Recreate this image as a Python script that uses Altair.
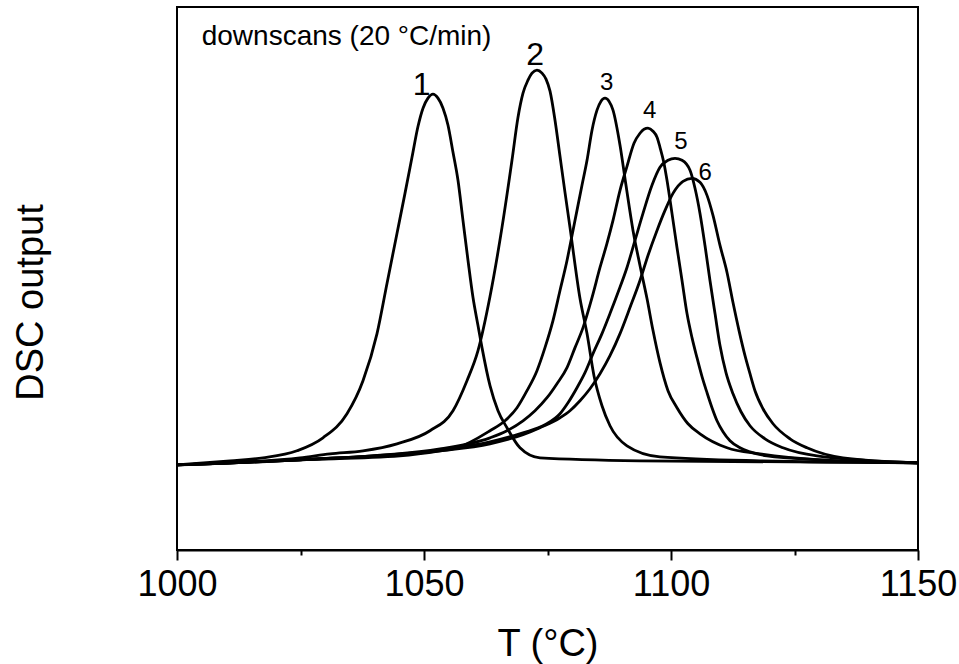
import altair as alt
import pandas as pd

# ---- data (T in °C, DSC output in arbitrary units) ----
T1 = [1000, 1010.73, 1017.41, 1024.29, 1029.55, 1034.41, 1037.65, 1040.49, 1042.51, 1044.53,
      1046.15, 1047.57, 1048.79, 1049.80, 1050.81, 1051.82, 1052.83, 1053.85, 1054.86, 1055.87,
      1056.88, 1057.89, 1058.91, 1059.92, 1060.93, 1061.74, 1063.36, 1064.98, 1066.80, 1069.43,
      1073.48, 1093.7, 1150]
V1 = [15.68, 16.42, 16.97, 18.27, 20.66, 25.09, 31.18, 39.85, 49.08, 58.30,
      65.68, 72.32, 78.04, 81.37, 83.21, 83.95, 83.21, 81.37, 78.23, 73.25,
      68.08, 60.70, 53.32, 46.49, 41.33, 37.27, 30.26, 25.65, 22.51, 18.82,
      16.97, 16.42, 16.05]

T2 = [1000, 1014.78, 1024.90, 1030.97, 1037.65, 1044.53, 1051.21, 1055.87, 1058.70, 1060.93,
      1063.36, 1065.79, 1067.81, 1069.03, 1070.04, 1071.05, 1071.86, 1072.87, 1073.89, 1074.70,
      1075.51, 1076.52, 1077.53, 1078.54, 1079.55, 1081.58, 1083.00, 1084.41, 1086.03, 1087.65,
      1091.09, 1097.77, 1118.02, 1150]
V2 = [15.68, 16.24, 16.97, 17.71, 18.27, 19.56, 21.96, 25.65, 31.18, 36.72,
      46.68, 59.41, 71.77, 79.70, 84.13, 86.53, 87.82, 88.38, 87.82, 86.72,
      84.50, 79.15, 72.51, 65.87, 59.41, 46.31, 39.85, 32.10, 26.57, 22.88,
      19.19, 17.16, 16.42, 16.05]

T3 = [1000, 1024.90, 1045.14, 1053.24, 1056.68, 1063.36, 1066.40, 1068.83, 1070.85, 1072.87,
      1074.49, 1076.11, 1077.53, 1078.95, 1079.96, 1080.97, 1081.98, 1083.00, 1084.01, 1085.02,
      1085.83, 1086.64, 1087.45, 1088.26, 1089.68, 1090.89, 1092.31, 1093.72, 1095.14, 1096.36,
      1097.77, 1099.39, 1101.21, 1103.44, 1105.87, 1111.34, 1118.02, 1130.16, 1150]
V3 = [15.68, 16.61, 17.34, 18.27, 18.82, 21.96, 23.80, 26.20, 29.34, 33.03,
      37.27, 42.25, 47.79, 53.32, 57.93, 62.55, 67.16, 71.77, 77.31, 81.00,
      82.66, 83.21, 82.66, 81.00, 74.54, 67.16, 58.86, 52.40, 46.31, 40.41,
      34.50, 29.34, 26.20, 23.25, 21.40, 18.82, 17.71, 16.61, 16.05]

T4 = [1000, 1024.90, 1053.24, 1063.36, 1066.80, 1070.04, 1072.47, 1074.90, 1076.92, 1078.95,
      1080.57, 1082.19, 1084.01, 1085.63, 1087.04, 1088.26, 1089.68, 1091.09, 1092.51, 1093.72,
      1094.53, 1095.34, 1096.36, 1097.17, 1097.77, 1098.58, 1099.19, 1100.20, 1101.21, 1102.23,
      1103.24, 1104.25, 1105.26, 1106.28, 1107.29, 1108.30, 1109.31, 1110.53, 1111.94, 1113.97,
      1115.99, 1119.43, 1130.16, 1150]
V4 = [15.68, 16.61, 18.63, 20.66, 21.96, 23.80, 25.65, 28.04, 30.63, 33.58,
      37.27, 40.96, 46.49, 52.03, 56.46, 60.70, 66.24, 70.66, 74.91, 76.75,
      77.49, 77.68, 77.12, 76.01, 74.17, 71.22, 68.08, 61.99, 55.72, 49.63,
      43.54, 39.11, 35.42, 31.92, 28.97, 26.20, 23.80, 21.77, 20.11, 18.82,
      18.08, 17.34, 16.61, 16.05]

T5 = [1000, 1024.90, 1053.24, 1063.36, 1070.04, 1074.49, 1077.53, 1079.15, 1080.97, 1082.59,
      1084.21, 1086.03, 1087.65, 1089.27, 1091.09, 1092.71, 1094.33, 1096.15, 1097.77, 1099.39,
      1100.81, 1102.23, 1103.85, 1104.86, 1105.87, 1106.88, 1107.89, 1108.91, 1109.92, 1111.13,
      1112.55, 1114.17, 1115.99, 1119.03, 1122.67, 1129.55, 1150]
V5 = [15.68, 16.61, 18.45, 19.93, 21.59, 23.06, 25.09, 27.12, 29.89, 32.66,
      36.16, 39.85, 43.54, 47.42, 52.03, 57.01, 61.99, 67.16, 70.48, 71.77,
      72.14, 71.77, 69.93, 66.61, 61.99, 56.09, 49.63, 43.54, 37.64, 32.66,
      28.78, 25.46, 22.88, 20.48, 18.82, 17.34, 16.05]

T6 = [1000, 1024.90, 1053.24, 1063.36, 1070.04, 1073.48, 1077.53, 1079.55, 1081.58, 1083.60,
      1085.63, 1087.65, 1089.68, 1091.70, 1093.72, 1095.34, 1097.17, 1098.79, 1100.40, 1102.43,
      1104.25, 1105.87, 1107.29, 1108.50, 1109.92, 1111.34, 1112.55, 1113.77, 1114.98, 1115.99,
      1117.00, 1118.62, 1120.65, 1124.09, 1127.53, 1134.82, 1150]
V6 = [15.68, 16.61, 18.27, 19.56, 21.22, 22.51, 24.35, 25.65, 27.49, 29.70,
      32.47, 35.79, 39.85, 44.65, 49.63, 54.24, 58.86, 62.55, 65.68, 67.90,
      68.45, 67.71, 65.31, 61.62, 56.09, 51.11, 45.57, 40.41, 35.79, 32.47,
      29.34, 26.01, 23.25, 20.48, 18.82, 16.97, 16.05]

curve_names = ["1", "2", "3", "4", "5", "6"]
curve_T = [T1, T2, T3, T4, T5, T6]
curve_V = [V1, V2, V3, V4, V5, V6]

# peak labels
label_names = ["1", "2", "3", "4", "5", "6"]
label_T = [1049.5, 1072.5, 1087.0, 1095.7, 1102.0, 1106.9]
label_V = [83.8, 89.3, 84.7, 79.5, 73.8, 68.1]

note_text = ["downscans (20 °C/min)"]
note_T = [1005.0]
note_V = [93.0]

x_ticks = [1000, 1025, 1050, 1075, 1100, 1125, 1150]

# ---- tables ----
rows = []
for name, ts, vs in zip(curve_names, curve_T, curve_V):
    for t, v in zip(ts, vs):
        rows.append({"curve": name, "T": t, "v": v})
df = pd.DataFrame(rows)
labels = pd.DataFrame({"name": label_names, "T": label_T, "v": label_V})
note = pd.DataFrame({"text": note_text, "T": note_T, "v": note_V})

FONT = "Liberation Sans"

xscale = alt.Scale(domain=[1000, 1150], nice=False, zero=False)
yscale = alt.Scale(domain=[0, 100], nice=False, zero=False)

xaxis = alt.Axis(
    title="T (°C)", values=x_ticks, grid=False, format="d",
    labelExpr="datum.value % 50 == 0 ? datum.label : ''",
    labelFlush=False, labelOverlap=False, labelBound=False,
    labelFontSize=36, labelFont=FONT, labelColor="black",
    labelBaseline="alphabetic", labelPadding=35,
    tickSize={"condition": {"test": "datum.value % 50 != 0", "value": 5}, "value": 10},
    tickColor="black", tickWidth=2, domainColor="black", domainWidth=2,
    titleFontSize=38, titleFont=FONT, titleFontWeight="normal", titleColor="black",
    titleBaseline="alphabetic", titleY=105,
)
yaxis = alt.Axis(
    title="DSC output", labels=False, ticks=False, domain=False, grid=False,
    titleFontSize=38, titleFont=FONT, titleFontWeight="normal", titleColor="black",
    titleBaseline="alphabetic", titleX=-135, titleY=295,
)

lines = alt.Chart(df).mark_line(color="black", strokeWidth=2.8, interpolate="monotone").encode(
    x=alt.X("T:Q", scale=xscale, axis=xaxis),
    y=alt.Y("v:Q", scale=yscale, axis=yaxis),
    detail="curve:N",
)

big = alt.Chart(labels).transform_filter("datum.name == '1' || datum.name == '2'").mark_text(
    font=FONT, fontSize=32, color="black", align="center", baseline="alphabetic"
).encode(x="T:Q", y="v:Q", text="name:N")

small = alt.Chart(labels).transform_filter("datum.name != '1' && datum.name != '2'").mark_text(
    font=FONT, fontSize=24, color="black", align="center", baseline="alphabetic"
).encode(x="T:Q", y="v:Q", text="name:N")

note_mark = alt.Chart(note).mark_text(
    font=FONT, fontSize=28, color="black", align="left", baseline="alphabetic"
).encode(x="T:Q", y="v:Q", text="text:N")

chart = alt.layer(lines, big, small, note_mark).properties(
    width=741, height=543,
    padding={"left": 177, "top": 7, "right": 41, "bottom": 114},
    autosize=alt.AutoSizeParams(type="none"),
    background="white",
).configure_view(stroke="black", strokeWidth=2)

chart.save("out.html", embed_options={"renderer": "svg", "actions": False})
